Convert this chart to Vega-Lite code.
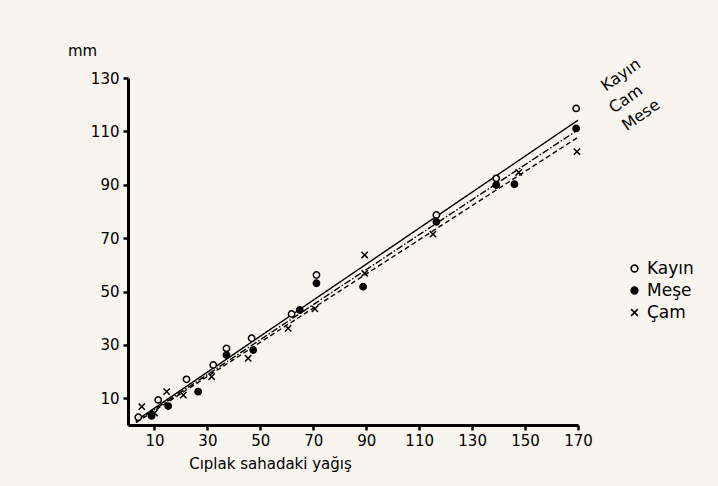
{
  "$schema": "https://vega.github.io/schema/vega-lite/v6.json",
  "autosize": {"type": "none"},
  "width": 450,
  "height": 347,
  "padding": {"left": 128, "top": 78, "right": 140, "bottom": 61},
  "background": "#f7f5ee",
  "config": {
    "view": {"stroke": null},
    "font": "DejaVu Sans",
    "axis": {
      "grid": false,
      "domainColor": "black",
      "domainWidth": 3,
      "tickColor": "black",
      "tickWidth": 2.5,
      "tickSize": 5,
      "labelColor": "black",
      "labelFont": "DejaVu Sans",
      "labelFontSize": 15,
      "titleColor": "black",
      "titleFont": "DejaVu Sans",
      "titleFontWeight": "normal",
      "titleFontSize": 15
    },
    "legend": {
      "labelFont": "DejaVu Sans",
      "labelFontSize": 17,
      "labelColor": "black",
      "symbolStrokeWidth": 1.6,
      "symbolSize": 45,
      "symbolOpacity": 1,
      "rowPadding": 4
    }
  },
  "datasets": {
    "points": [
      {"tur": "Kayın", "ciplak": 3.9, "yagis": 2.9},
      {"tur": "Kayın", "ciplak": 11.4, "yagis": 9.4},
      {"tur": "Kayın", "ciplak": 22.1, "yagis": 17.1},
      {"tur": "Kayın", "ciplak": 32.2, "yagis": 22.5},
      {"tur": "Kayın", "ciplak": 37.2, "yagis": 28.7},
      {"tur": "Kayın", "ciplak": 46.7, "yagis": 32.5},
      {"tur": "Kayın", "ciplak": 61.8, "yagis": 41.6},
      {"tur": "Kayın", "ciplak": 71.2, "yagis": 56.2},
      {"tur": "Kayın", "ciplak": 116.5, "yagis": 78.7},
      {"tur": "Kayın", "ciplak": 139.1, "yagis": 92.4},
      {"tur": "Kayın", "ciplak": 169.3, "yagis": 118.6},
      {"tur": "Meşe", "ciplak": 8.9, "yagis": 3.4},
      {"tur": "Meşe", "ciplak": 15.2, "yagis": 7.1},
      {"tur": "Meşe", "ciplak": 26.5, "yagis": 12.5},
      {"tur": "Meşe", "ciplak": 37.2, "yagis": 26.2},
      {"tur": "Meşe", "ciplak": 47.3, "yagis": 28.1},
      {"tur": "Meşe", "ciplak": 64.9, "yagis": 43.1},
      {"tur": "Meşe", "ciplak": 71.2, "yagis": 53.1},
      {"tur": "Meşe", "ciplak": 88.8, "yagis": 51.8},
      {"tur": "Meşe", "ciplak": 116.5, "yagis": 76.1},
      {"tur": "Meşe", "ciplak": 139.1, "yagis": 89.9},
      {"tur": "Meşe", "ciplak": 146.0, "yagis": 90.2},
      {"tur": "Meşe", "ciplak": 169.3, "yagis": 111.1},
      {"tur": "Çam", "ciplak": 5.2, "yagis": 6.9},
      {"tur": "Çam", "ciplak": 10.0, "yagis": 4.5},
      {"tur": "Çam", "ciplak": 14.6, "yagis": 12.5},
      {"tur": "Çam", "ciplak": 20.9, "yagis": 11.2},
      {"tur": "Çam", "ciplak": 31.6, "yagis": 18.1},
      {"tur": "Çam", "ciplak": 45.4, "yagis": 25.0},
      {"tur": "Çam", "ciplak": 60.5, "yagis": 36.2},
      {"tur": "Çam", "ciplak": 70.6, "yagis": 43.5},
      {"tur": "Çam", "ciplak": 89.4, "yagis": 63.7},
      {"tur": "Çam", "ciplak": 89.4, "yagis": 56.8},
      {"tur": "Çam", "ciplak": 115.2, "yagis": 71.5},
      {"tur": "Çam", "ciplak": 147.6, "yagis": 94.6},
      {"tur": "Çam", "ciplak": 169.6, "yagis": 102.4}
    ],
    "lines": [
      {"tur": "Kayın", "ciplak": 3, "yagis": 1.6},
      {"tur": "Kayın", "ciplak": 170, "yagis": 114.2},
      {"tur": "Çam", "ciplak": 3, "yagis": 1.2},
      {"tur": "Çam", "ciplak": 170, "yagis": 110.6},
      {"tur": "Meşe", "ciplak": 3, "yagis": 0.9},
      {"tur": "Meşe", "ciplak": 170, "yagis": 107.8}
    ],
    "labels": [
      {"etiket": "Kayın", "ciplak": 186.2, "yagis": 131.1},
      {"etiket": "Cam", "ciplak": 188.1, "yagis": 122.1},
      {"etiket": "Mese", "ciplak": 193.8, "yagis": 116.1}
    ]
  },
  "layer": [
    {
      "data": {"name": "lines"},
      "mark": {"type": "line", "color": "black", "strokeWidth": 1.4},
      "encoding": {
        "x": {
          "field": "ciplak", "type": "quantitative",
          "scale": {"domain": [0, 170], "nice": false, "zero": true},
          "axis": {
            "values": [10, 20, 30, 40, 50, 60, 70, 80, 90, 100, 110, 120, 130, 140, 150, 160, 170],
            "labelExpr": "(datum.value / 10) % 2 == 1 ? datum.label : ''",
            "labelPadding": 3,
            "labelFlush": false,
            "labelOverlap": false,
            "title": "Cıplak sahadaki yağış",
            "titleX": 142,
            "titleY": 31,
            "titleAnchor": null,
            "titleAlign": "center",
            "titleBaseline": "top"
          }
        },
        "y": {
          "field": "yagis", "type": "quantitative",
          "scale": {"domain": [0, 130], "nice": false},
          "axis": {
            "values": [10, 20, 30, 40, 50, 60, 70, 80, 90, 100, 110, 120, 130],
            "labelExpr": "(datum.value / 10) % 2 == 1 ? datum.label : ''",
            "labelPadding": 4,
            "labelFlush": false,
            "labelOverlap": false,
            "title": "mm",
            "titleAngle": 0,
            "titleX": -46,
            "titleY": -28,
            "titleAlign": "center",
            "titleBaseline": "middle",
            "titleAnchor": null
          }
        },
        "detail": {"field": "tur"},
        "strokeDash": {
          "field": "tur", "type": "nominal",
          "scale": {"domain": ["Kayın", "Çam", "Meşe"], "range": [[1, 0], [7, 2, 1.5, 2], [5, 3]]},
          "legend": null
        }
      }
    },
    {
      "data": {"name": "points"},
      "mark": {"type": "point", "strokeWidth": 1.5, "size": 40, "opacity": 1},
      "encoding": {
        "x": {"field": "ciplak", "type": "quantitative"},
        "y": {"field": "yagis", "type": "quantitative"},
        "shape": {
          "field": "tur", "type": "nominal",
          "scale": {"domain": ["Kayın", "Meşe", "Çam"], "range": ["circle", "circle", "M-1,-1L1,1M-1,1L1,-1"]},
          "legend": {"title": null, "orient": "none", "legendX": 498, "legendY": 182}
        },
        "fill": {
          "field": "tur", "type": "nominal",
          "scale": {"domain": ["Kayın", "Meşe", "Çam"], "range": ["#f7f5ee", "black", "transparent"]},
          "legend": {"title": null, "orient": "none", "legendX": 498, "legendY": 182}
        },
        "stroke": {
          "field": "tur", "type": "nominal",
          "scale": {"domain": ["Kayın", "Meşe", "Çam"], "range": ["black", "black", "black"]},
          "legend": {"title": null, "orient": "none", "legendX": 498, "legendY": 182}
        }
      }
    },
    {
      "data": {"name": "labels"},
      "mark": {"type": "text", "angle": -35, "font": "DejaVu Sans", "fontSize": 16, "color": "black", "align": "center", "baseline": "middle"},
      "encoding": {
        "x": {"field": "ciplak", "type": "quantitative"},
        "y": {"field": "yagis", "type": "quantitative"},
        "text": {"field": "etiket"}
      }
    },
    {
      "mark": {"type": "text", "text": "mm", "font": "DejaVu Sans", "fontSize": 15, "color": "black", "align": "left", "baseline": "top", "dx": 18, "dy": 8},
      "encoding": {
        "x": {"datum": 170, "type": "quantitative"},
        "y": {"datum": 0, "type": "quantitative"}
      }
    }
  ]
}
